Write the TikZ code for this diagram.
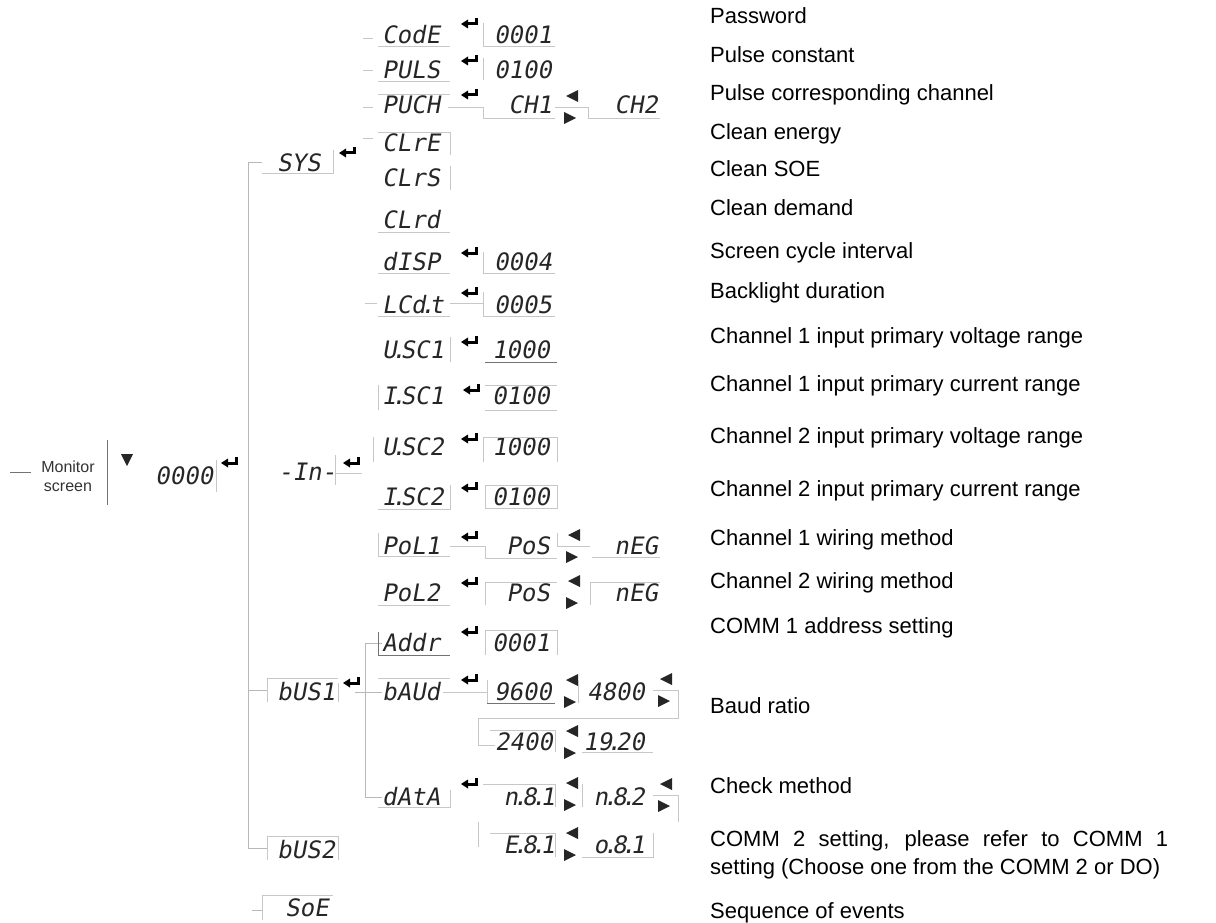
\documentclass[tikz,border=0pt]{standalone}
\usepackage{fontspec}
\setmainfont{Liberation Sans}
\newfontfamily\lcdfam{DejaVu Sans Mono}[FakeSlant=0.18]
\newcommand\dt{\kern-0.22em.\kern-0.22em}
\begin{document}
\begin{tikzpicture}[x=1pt,y=-1pt,
  lcd/.style={font=\lcdfam\fontsize{24}{24}\selectfont, inner sep=0pt, text=black!85, text height=17pt, text depth=0pt},
  lcdw/.style={lcd, anchor=west},
  lcde/.style={lcd, anchor=east},
  lbl/.style={font=\fontsize{22}{28}\selectfont, anchor=west, inner sep=0pt, text height=16pt, text depth=0pt},
  frag/.style={draw=black!22, line width=0.9pt},
  fragd/.style={draw=black!55, line width=1pt},
  conn/.style={draw=black!28, line width=0.9pt},
  enterk/.pic={\fill[black] (4.5,-6) rectangle (7.5,1.5); \fill[black] (-2,-1.5) rectangle (7.5,1.5); \fill[black] (-2,-4.5) -- (-9,0) -- (-2,4.5) -- cycle;},
  lrk/.pic={\fill[black!85] (8,-17) -- (-4,-11) -- (8,-5) -- cycle; \fill[black!85] (-6,5) -- (6,11) -- (-6,17) -- cycle;},
  downk/.pic={\fill[black!85] (-6,-6) -- (6,-6) -- (0,6) -- cycle;}
]
\useasboundingbox (0,0) rectangle (1216,923);

% ---------- Monitor screen ----------
\node[font=\fontsize{16}{19}\selectfont, align=center, inner sep=0pt, text=black!80] (mon) at (68,476) {Monitor\\screen};
\coordinate (monl) at (10,472);
\coordinate (monr) at (31,472);
\draw[fragd] (monl) -- (monr);
\draw[fragd] (107,440) -- (107,505);
\pic at (127,460) {downk};
\node[lcdw] (zero) at (155,476) {0000};
\draw[frag] (216,460) -- (216,492);
\pic at (230,463) {enterk};

% ---------- top level ----------
\node[lcdw] (sys) at (277,163) {SYS};
\node[lcdw] (inp) at (278,472) {-In-};
\node[lcdw] (bus1) at (277,692) {bUS1};
\node[lcdw] (bus2) at (277,850) {bUS2};
\node[lcdw] (soe) at (285,908) {SoE};
\pic at (348,153) {enterk};
\pic at (352,463) {enterk};
\pic at (352,683) {enterk};

\coordinate (trtop) at (248,162);
\coordinate (trb1) at (248,690);
\coordinate (trb2) at (248,848);
\draw[conn] (trtop) -- (trb2);
\draw[conn] (trtop) -- (262,162);
\draw[conn] (trb1) -- (267,690);
\draw[conn] (trb2) -- (267,848);
\draw[conn] (252,910) -- (262,910);
% boxes of top level
\draw[frag] (262,173) -- (333,173) -- (333,150);
\draw[frag] (335,455) -- (335,485);
\draw[frag] (335,473) -- (362,473);
\draw[frag] (267,702) -- (267,678) -- (338,678);
\draw[frag] (338,683) -- (338,702);
\draw[frag] (267,860) -- (267,836) -- (338,836) -- (338,860);
\draw[frag] (262,920) -- (262,895) -- (333,895);

% ---------- SYS group ----------
\node[lcdw] (code) at (382,35) {CodE};
\node[lcde] (codev) at (552,35) {0001};
\node[lcdw] (puls) at (382,70) {PULS};
\node[lcde] (pulsv) at (552,70) {0100};
\node[lcdw] (puch) at (382,105) {PUCH};
\node[lcde] (ch1) at (552,105) {CH1};
\node[lcde] (ch2) at (658,105) {CH2};
\node[lcdw] (clre) at (382,143) {CLrE};
\node[lcdw] (clrs) at (382,178) {CLrS};
\node[lcdw] (clrd) at (382,220) {CLrd};
\node[lcdw] (disp) at (382,262) {dISP};
\node[lcde] (dispv) at (552,262) {0004};
\node[lcdw] (lcdt) at (382,305) {LCd\dt t};
\node[lcde] (lcdtv) at (552,305) {0005};
\pic at (470,24) {enterk};
\pic at (470,61) {enterk};
\pic at (470,95) {enterk};
\pic at (470,253) {enterk};
\pic at (470,293) {enterk};
\pic at (570,107) {lrk};

\draw[frag] (363,38) -- (373,38);
\draw[frag] (378,46) -- (450,46);
\draw[frag] (483,23) -- (483,46) -- (555,46);
\draw[frag] (363,70) -- (373,70);
\draw[frag] (378,81) -- (450,81);
\draw[frag] (483,58) -- (483,80);
\draw[frag] (363,107) -- (373,107);
\draw[frag] (378,94) -- (450,94);
\draw[frag] (448,107) -- (483,107) -- (483,118) -- (555,118);
\draw[frag] (555,107) -- (588,107) -- (588,118) -- (660,118);
\draw[frag] (363,138) -- (373,138);
\draw[frag] (378,132) -- (450,132) -- (450,155);
\draw[frag] (450,166) -- (450,190);
\draw[frag] (378,232) -- (450,232);
\draw[frag] (378,273) -- (450,273);
\draw[frag] (483,252) -- (483,273) -- (555,273);
\draw[frag] (365,303) -- (377,303);
\draw[frag] (378,316) -- (450,316);
\draw[frag] (450,303) -- (483,303);
\draw[frag] (483,292) -- (483,316) -- (555,316);

% ---------- -In- group ----------
\node[lcdw] (usc1) at (382,350) {U\dt SC1};
\node[lcde] (usc1v) at (550,350) {1000};
\node[lcdw] (isc1) at (382,396) {I\dt SC1};
\node[lcde] (isc1v) at (550,396) {0100};
\node[lcdw] (usc2) at (382,447) {U\dt SC2};
\node[lcde] (usc2v) at (550,447) {1000};
\node[lcdw] (isc2) at (382,497) {I\dt SC2};
\node[lcde] (isc2v) at (550,497) {0100};
\node[lcdw] (pol1) at (382,546) {PoL1};
\node[lcde] (pos1) at (550,546) {PoS};
\node[lcde] (neg1) at (658,546) {nEG};
\node[lcdw] (pol2) at (382,593) {PoL2};
\node[lcde] (pos2) at (550,593) {PoS};
\node[lcde] (neg2) at (658,593) {nEG};
\pic at (470,342) {enterk};
\pic at (472,390) {enterk};
\pic at (470,439) {enterk};
\pic at (470,488) {enterk};
\pic at (470,537) {enterk};
\pic at (470,583) {enterk};
\pic at (572,546) {lrk};
\pic at (572,592) {lrk};

\draw[frag] (450,337) -- (450,362);
\draw[fragd] (485,362) -- (557,362);
\draw[frag] (378,385) -- (378,410);
\draw[frag] (485,385) -- (557,385);
\draw[frag] (485,410) -- (557,410);
\draw[frag] (373,437) -- (373,462);
\draw[frag] (483,462) -- (483,437) -- (557,437) -- (557,462);
\draw[frag] (378,509) -- (450,509) -- (450,485);
\draw[frag] (485,485) rectangle (557,508);
\draw[frag] (378,533) -- (378,556) -- (450,556);
\draw[frag] (450,546) -- (485,546) -- (485,558) -- (557,558);
\draw[frag] (557,533) -- (557,546) -- (590,546);
\draw[frag] (592,557) -- (660,557);
\draw[frag] (378,605) -- (450,605);
\draw[frag] (485,605) -- (485,582) -- (557,582);
\draw[frag] (590,605) -- (590,582) -- (660,582);

% ---------- bUS1 group ----------
\node[lcdw] (addr) at (382,643) {Addr};
\node[lcde] (addrv) at (550,643) {0001};
\node[lcdw] (baud) at (382,692) {bAUd};
\node[lcde] (b96) at (552,692) {9600};
\node[lcde] (b48) at (645,692) {4800};
\node[lcde] (b24) at (553,742) {2400};
\node[lcde] (b19) at (645,742) {19\dt 20};
\node[lcdw] (data) at (382,797) {dAtA};
\node[lcde] (n81) at (555,797) {n\dt 8\dt 1};
\node[lcde] (n82) at (645,797) {n\dt 8\dt 2};
\node[lcde] (e81) at (555,845) {E\dt 8\dt 1};
\node[lcde] (o81) at (645,845) {o\dt 8\dt 1};
\pic at (470,632) {enterk};
\pic at (470,680) {enterk};
\pic at (470,784) {enterk};
\pic at (570,691) {lrk};
\pic at (664,690) {lrk};
\pic at (570,742) {lrk};
\pic at (570,794) {lrk};
\pic at (664,795) {lrk};
\pic at (570,844) {lrk};

\coordinate (vb1) at (365,643);
\coordinate (vb2) at (365,797);
\draw[conn] (vb1) -- (vb2);
\draw[conn] (vb1) -- (addr.west);
\draw[conn] (vb2) -- (data.west);
\draw[conn] (355,692) -- (baud.west);

\draw[fragd] (378,632) -- (378,655) -- (450,655);
\draw[frag] (485,655) -- (485,630) -- (557,630) -- (557,655);
\draw[frag] (378,678) -- (450,678);
\draw[frag] (443,692) -- (487,692);
\draw[frag] (487,680) -- (487,703);
\draw[fragd] (487,703) -- (555,703);
\draw[frag] (578,680) -- (578,703);
\draw[frag] (653,690) -- (678,690) -- (678,718) -- (478,718) -- (478,745) -- (495,745);
\draw[frag] (490,730) -- (555,730) -- (555,752);
\draw[frag] (582,752) -- (653,752);
\draw[frag] (378,807) -- (450,807) -- (450,790);
\draw[frag] (483,784) -- (555,784) -- (555,807);
\draw[frag] (582,784) -- (582,807);
\draw[frag] (653,795) -- (678,795) -- (678,822);
\draw[frag] (478,822) -- (478,847);
\draw[frag] (490,833) -- (555,833) -- (555,857);
\draw[frag] (582,857) -- (653,857) -- (653,833);

% ---------- right-hand descriptions ----------
\node[lbl] (t1) at (710,16) {Password};
\node[lbl] (t2) at (710,55) {Pulse constant};
\node[lbl] (t3) at (710,93) {Pulse corresponding channel};
\node[lbl] (t4) at (710,132) {Clean energy};
\node[lbl] (t5) at (710,168) {Clean SOE};
\node[lbl] (t6) at (710,207) {Clean demand};
\node[lbl] (t7) at (710,250) {Screen cycle interval};
\node[lbl] (t8) at (710,290) {Backlight duration};
\node[lbl] (t9) at (710,335) {Channel 1 input primary voltage range};
\node[lbl] (t10) at (710,383) {Channel 1 input primary current range};
\node[lbl] (t11) at (710,435) {Channel 2 input primary voltage range};
\node[lbl] (t12) at (710,488) {Channel 2 input primary current range};
\node[lbl] (t13) at (710,537) {Channel 1 wiring method};
\node[lbl] (t14) at (710,580) {Channel 2 wiring method};
\node[lbl] (t15) at (710,625) {COMM 1 address setting};
\node[lbl] (t16) at (710,705) {Baud ratio};
\node[lbl] (t17) at (710,785) {Check method};
\node[lbl] (t18) at (710,838) {\makebox[458pt][s]{COMM 2 setting, please refer to COMM 1}};
\node[lbl] (t19) at (710,866) {setting (Choose one from the COMM 2 or DO)};
\node[lbl] (t20) at (710,910) {Sequence of events};
\end{tikzpicture}
\end{document}
